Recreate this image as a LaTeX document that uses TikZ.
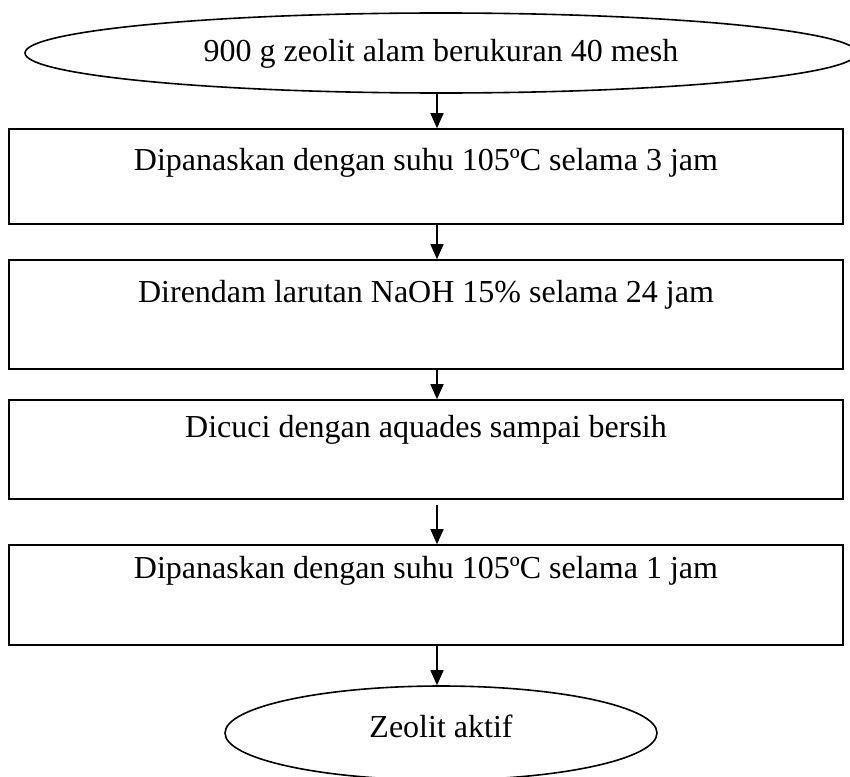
\documentclass[tikz,border=0pt]{standalone}
\usepackage{fontspec}
\setmainfont{Liberation Serif}
\usetikzlibrary{shapes.geometric,arrows.meta}
\begin{document}
\begin{tikzpicture}[x=1pt,y=-1pt,
  box/.style={draw, line width=1.6pt, rectangle, minimum width=834pt, inner sep=0pt},
  oval/.style={draw, line width=1.6pt, ellipse, inner sep=0pt},
  lbl/.style={anchor=base, inner sep=0pt, font=\fontsize{32}{38}\selectfont},
  flow/.style={line width=1.6pt, -{Triangle[length=15pt,width=13pt]}}]
\clip (0,0) rectangle (850,776);
\fill[white] (0,0) rectangle (850,776);
% nodes
\node[oval, minimum width=832pt, minimum height=80pt] (e1) at (441,53) {};
\node[lbl] (t0) at (441,62) {900 g zeolit alam berukuran 40 mesh};
\node[box, minimum height=95pt] (b1) at (426,176.5) {};
\node[lbl] (t1) at (426,170) {Dipanaskan dengan suhu 105ºC selama 3 jam};
\node[box, minimum height=109pt] (b2) at (426,314.5) {};
\node[lbl] (t2) at (426,302) {Direndam larutan NaOH 15\% selama 24 jam};
\node[box, minimum height=99pt] (b3) at (426,449.5) {};
\node[lbl] (t3) at (426,437) {Dicuci dengan aquades sampai bersih};
\node[box, minimum height=100pt] (b4) at (426,595) {};
\node[lbl] (t4) at (426,578) {Dipanaskan dengan suhu 105ºC selama 1 jam};
\node[oval, minimum width=432pt, minimum height=94pt] (e2) at (441,733) {};
\node[lbl] (t5) at (441,737) {Zeolit aktif};
% connectors
\coordinate (ax) at (437,0);
\draw[flow] (ax |- e1.south) -- (ax |- b1.north);
\draw[flow] (ax |- b1.south) -- (ax |- b2.north);
\draw[flow] (ax |- b2.south) -- (ax |- b3.north);
\draw[flow] ([yshift=-5pt]ax |- b3.south) -- (ax |- b4.north);
\draw[flow] (ax |- b4.south) -- (ax |- e2.north);
\end{tikzpicture}
\end{document}
